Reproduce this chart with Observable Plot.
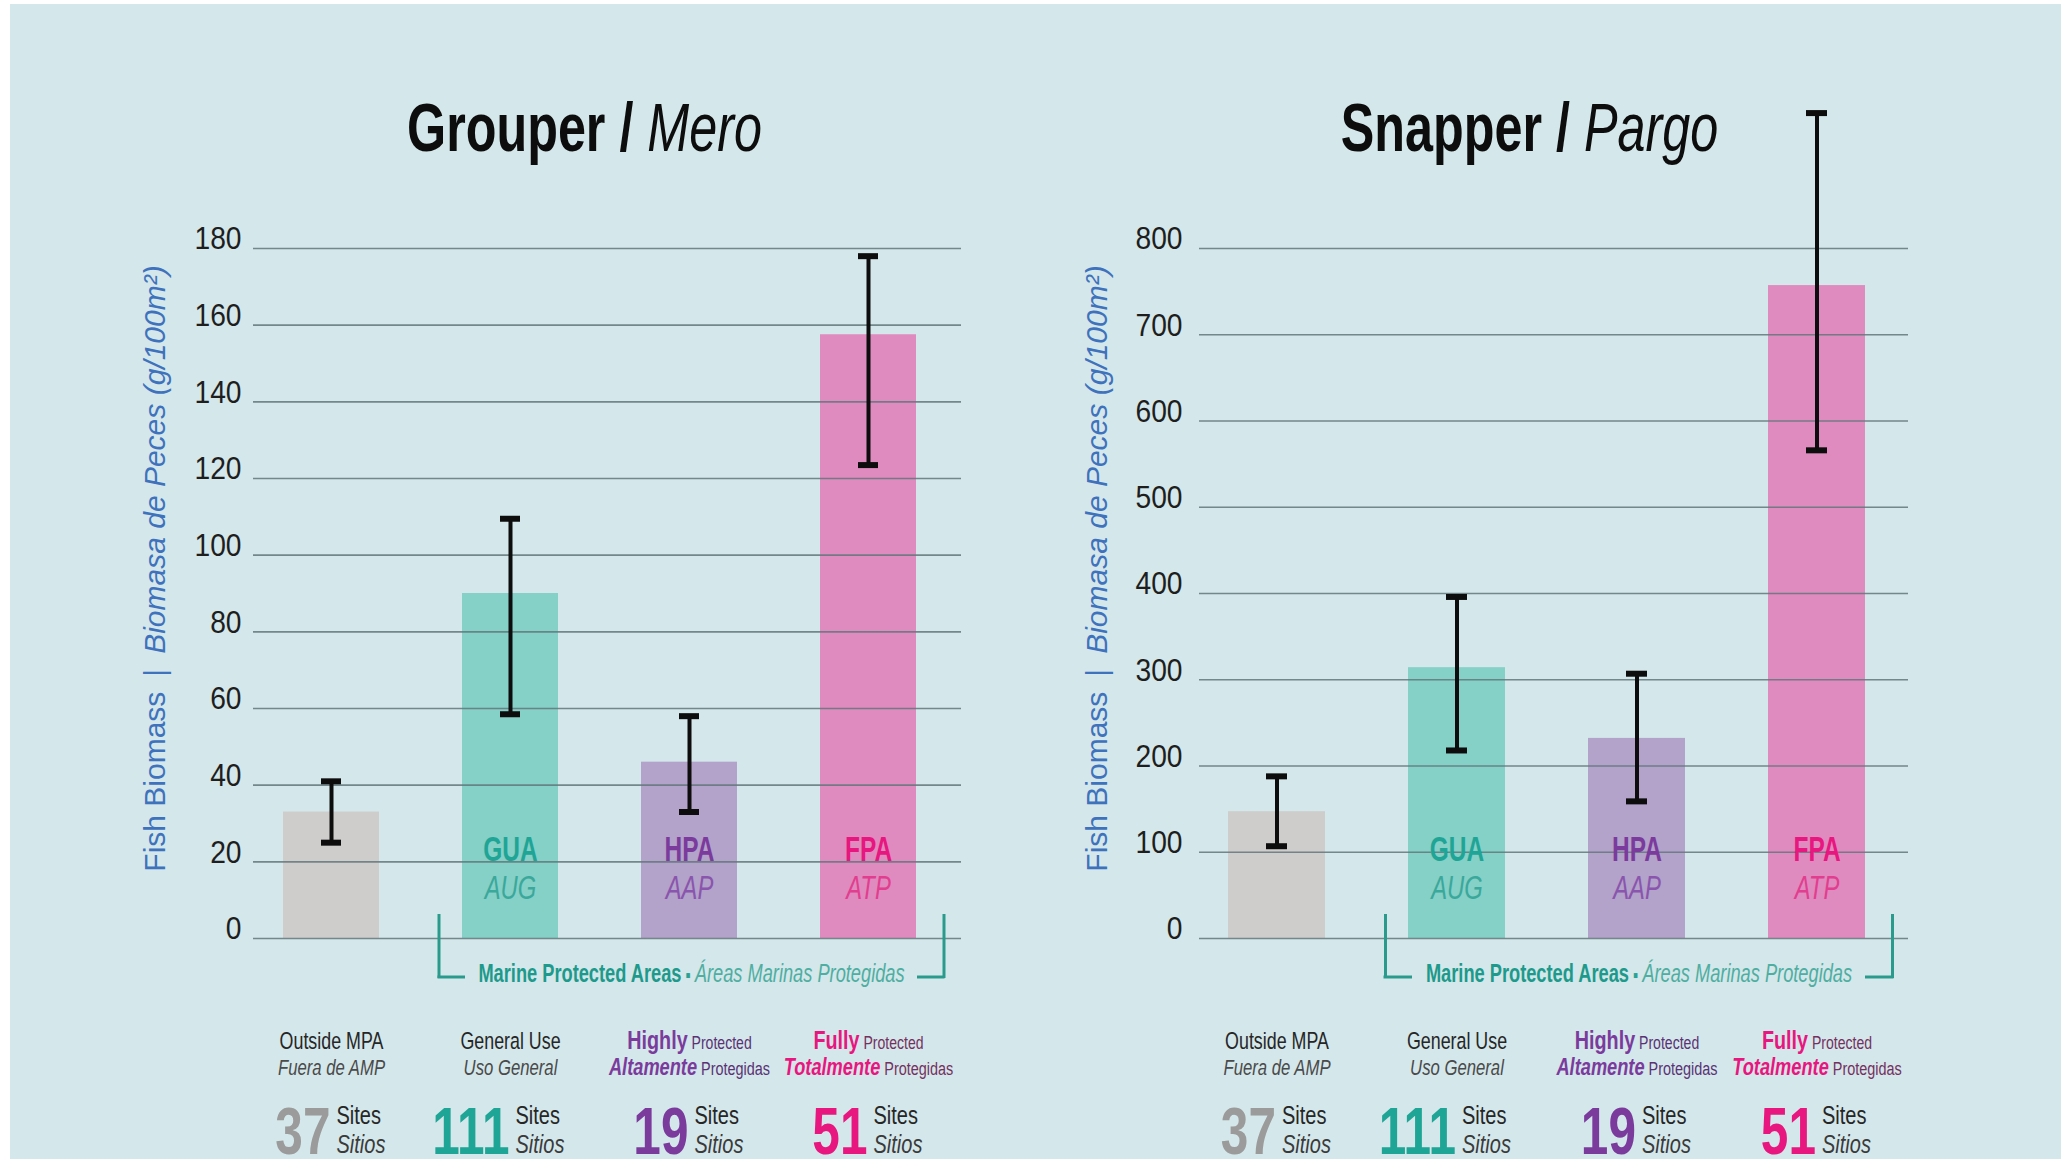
<!DOCTYPE html>
<html>
<head>
<meta charset="utf-8">
<script src="https://cdn.jsdelivr.net/npm/d3@7"></script>
<script src="https://cdn.jsdelivr.net/npm/@observablehq/plot@0.6"></script>
<style>
html, body { margin: 0; padding: 0; background: #ffffff; width: 2061px; height: 1159px; overflow: hidden; }
#wrap { position: absolute; left: 10px; top: 4px; width: 2051px; height: 1155px; background: #d4e7ea; overflow: hidden; }
#wrap svg { position: absolute; top: 0; }
</style>
</head>
<body>
<div id="wrap"></div>
<script>
// ---------------- data ----------------
const categories = ["Outside MPA", "GUA", "HPA", "FPA"];

const grouperMean = [33, 90, 46, 157.5];
const grouperLow  = [25, 58.5, 33, 123.5];
const grouperHigh = [41, 109.5, 58, 178];

const snapperMean = [147, 314, 232, 757];
const snapperLow  = [107, 218, 159, 566];
const snapperHigh = [188, 396, 307, 957];

const grouperTicks = [0, 20, 40, 60, 80, 100, 120, 140, 160, 180];
const snapperTicks = [0, 100, 200, 300, 400, 500, 600, 700, 800];

const grouperTitle = ["Grouper", "Mero"];
const snapperTitle = ["Snapper", "Pargo"];

const yLabelEn = "Fish Biomass";
const yLabelSep = "|";
const yLabelEs = "Biomasa de Peces (g/100m²)";

const insideTop    = ["", "GUA", "HPA", "FPA"];
const insideBottom = ["", "AUG", "AAP", "ATP"];

const labelLine1      = ["Outside MPA", "General Use", "Highly", "Fully"];
const labelLine1Small = ["", "", "Protected", "Protected"];
const labelLine2      = ["Fuera de AMP", "Uso General", "Altamente", "Totalmente"];
const labelLine2Small = ["", "", "Protegidas", "Protegidas"];

const siteCounts = [37, 111, 19, 51];
const sitesEn = "Sites";
const sitesEs = "Sitios";

const bracketEn = "Marine Protected Areas";
const bracketEs = "Áreas Marinas Protegidas";

// ---------------- styles ----------------
const FONT = "'Liberation Sans', Arial, sans-serif";
const barFill     = ["#cfcdcc", "#85d0c7", "#b3a2ca", "#df8bbf"];
const strongColor = ["#9b9b9b", "#1fa596", "#7b3b9d", "#e8167f"];
const softColor   = ["#9b9b9b", "#3aa89b", "#8a55ad", "#e23e8f"];
const darkColor   = ["#333333", "#333333", "#5a3275", "#74305f"];
const SEP = "§";
const H = 1155, MT = 244, MB = 221;
const BW = 97;

// horizontal condensing factor and rich-text styling per text mark
const TEXT_STYLE = {
  title: {scale: 0.74, rich: (i, j) => j === 0 ? {"font-weight": "bold"} : {"font-style": "italic"}},
  ticks: {scale: 0.91},
  ylab:  {scale: 1, rich: (i, j) => j === 2 ? {"font-style": "italic"} : {}},
  inTop: {scale: 0.7},
  inBot: {scale: 0.7},
  mpa:   {scale: 0.73, rich: (i, j) => j === 0 ? {"font-weight": "bold", fill: "#1d9a8b"}
                               : j === 1 ? {fill: "#2aa293", "font-size": 20}
                               : {"font-style": "italic", fill: "#4eaea1"}},
  l1:    {scale: 0.76, rich: (i, j) => i < 2 ? {fill: "#262626"}
                               : j === 0 ? {fill: strongColor[i], "font-weight": "bold", "font-size": 26}
                               : {fill: darkColor[i], "font-size": 18.5}},
  l2:    {scale: 0.76, rich: (i, j) => i < 2 ? {fill: "#4a4a4a", "font-style": "italic"}
                               : j === 0 ? {fill: strongColor[i], "font-weight": "bold", "font-style": "italic", "font-size": 24}
                               : {fill: darkColor[i], "font-size": 19}},
  num:   {scale: 0.74},
  sites: {scale: 0.8}
};

function postText(svg) {
  for (const key in TEXT_STYLE) {
    const {scale, rich} = TEXT_STYLE[key];
    svg.querySelectorAll(`g[aria-description="${key}"] text`).forEach((t, i) => {
      if (rich) {
        const parts = t.textContent.split(SEP);
        while (t.firstChild) t.removeChild(t.firstChild);
        parts.forEach((p, j) => {
          const s = document.createElementNS("http://www.w3.org/2000/svg", "tspan");
          s.textContent = p;
          const st = rich(i, j) || {};
          for (const k in st) s.setAttribute(k, st[k]);
          t.appendChild(s);
        });
      }
      if (scale !== 1) {
        const tr = t.getAttribute("transform") || "";
        t.setAttribute("transform", `${tr} scale(${scale},1)`);
      }
    });
  }
}

function makeChart(cfg) {
  const rows = categories.map((cat, i) => ({cat, i, mean: cfg.mean[i], lo: cfg.lo[i], hi: cfg.hi[i]}));
  const capInset = (BW - 21) / 2;
  const teal = "#2a9a8c";
  const plot = Plot.plot({
    width: cfg.width, height: H,
    marginTop: MT, marginBottom: MB, marginLeft: cfg.marginLeft, marginRight: cfg.marginRight,
    style: {background: "transparent", overflow: "visible", fontFamily: FONT},
    x: {domain: categories, paddingInner: 0.461, paddingOuter: 0.1975, align: 0.408, axis: null},
    y: {domain: cfg.domain, axis: null},
    color: {type: "identity"},
    marks: [
      Plot.barY(rows, {x: "cat", y: "mean", fill: d => barFill[d.i]}),
      Plot.ruleY(cfg.ticks, {stroke: "#62777a", strokeWidth: 1.6, strokeOpacity: 0.85}),
      Plot.text(cfg.ticks, {y: d => d, text: d => String(d), frameAnchor: "left", textAnchor: "end",
        dx: -cfg.tickPad, dy: -9, fontSize: 31, fill: "#1e1e1e", fontFamily: FONT, ariaDescription: "ticks"}),
      // error bars
      Plot.ruleX(rows, {x: "cat", y1: "lo", y2: "hi", stroke: "#0d0d0d", strokeWidth: 4}),
      Plot.tickY(rows, {x: "cat", y: "hi", insetLeft: capInset, insetRight: capInset, stroke: "#0d0d0d", strokeWidth: 6}),
      Plot.tickY(rows, {x: "cat", y: "lo", insetLeft: capInset, insetRight: capInset, stroke: "#0d0d0d", strokeWidth: 6}),
      // inside-bar labels
      Plot.text(rows, {x: "cat", text: d => insideTop[d.i], frameAnchor: "bottom", lineAnchor: "bottom", dy: -78,
        fontSize: 35, fontWeight: "bold", fill: d => strongColor[d.i], fontFamily: FONT, ariaDescription: "inTop"}),
      Plot.text(rows, {x: "cat", text: d => insideBottom[d.i], frameAnchor: "bottom", lineAnchor: "bottom", dy: -40,
        fontSize: 34, fontStyle: "italic", fill: d => softColor[d.i], fontFamily: FONT, ariaDescription: "inBot"}),
      // title
      Plot.text([0], {frameAnchor: "top", lineAnchor: "bottom", textAnchor: "middle", dx: cfg.titleDx, dy: -98,
        text: () => `${cfg.title[0]} /${SEP} ${cfg.title[1]}`, fontSize: 68, fontFamily: FONT,
        fill: "#0d0d0d", ariaDescription: "title"}),
      // y label
      Plot.text([0], {frameAnchor: "left", rotate: -90, textAnchor: "middle", dx: cfg.ylabDx, dy: -25,
        text: () => `${yLabelEn}${SEP}\u2002${yLabelSep}\u2002${SEP}${yLabelEs}`,
        fontSize: 30, fontFamily: FONT, fill: "#3f72bd", ariaDescription: "ylab"}),
      // MPA bracket
      Plot.ruleX(["GUA"], {x: d => d, dx: -(BW / 2 + 23), insetTop: 666, insetBottom: -40, stroke: teal, strokeWidth: 3}),
      Plot.ruleX(["FPA"], {x: d => d, dx: BW / 2 + 27, insetTop: 666, insetBottom: -40, stroke: teal, strokeWidth: 3}),
      Plot.tickY(["GUA"], {x: d => d, y: () => 0, dy: 38.5, insetLeft: -24.5, insetRight: 93, stroke: teal, strokeWidth: 3}),
      Plot.tickY(["FPA"], {x: d => d, y: () => 0, dy: 38.5, insetLeft: BW, insetRight: -28.5, stroke: teal, strokeWidth: 3}),
      Plot.text([0], {x: () => "HPA", frameAnchor: "bottom", lineAnchor: "bottom", textAnchor: "middle", dx: 2, dy: 43,
        text: () => `${bracketEn}${SEP} \u25AA ${SEP}${bracketEs}`, fontSize: 25, fontFamily: FONT,
        ariaDescription: "mpa"}),
      // category labels
      Plot.text(rows, {x: "cat", frameAnchor: "bottom", lineAnchor: "bottom", dy: 110,
        text: d => labelLine1[d.i] + (labelLine1Small[d.i] ? SEP + " " + labelLine1Small[d.i] : ""),
        fontSize: 23.5, fontFamily: FONT, ariaDescription: "l1"}),
      Plot.text(rows, {x: "cat", frameAnchor: "bottom", lineAnchor: "bottom", dy: 136,
        text: d => labelLine2[d.i] + (labelLine2Small[d.i] ? SEP + " " + labelLine2Small[d.i] : ""),
        fontSize: 22, fontFamily: FONT, ariaDescription: "l2"}),
      // site counts
      Plot.text(rows, {x: "cat", frameAnchor: "bottom", lineAnchor: "bottom", dy: 215, dx: -1, textAnchor: "end",
        text: d => String(siteCounts[d.i]), fontSize: 67, fontWeight: "bold", fill: d => strongColor[d.i],
        fontFamily: FONT, ariaDescription: "num"}),
      Plot.text(rows, {x: "cat", frameAnchor: "bottom", lineAnchor: "bottom", dy: 185, dx: 5, textAnchor: "start",
        text: () => sitesEn, fontSize: 25, fill: "#262626", fontFamily: FONT, ariaDescription: "sites"}),
      Plot.text(rows, {x: "cat", frameAnchor: "bottom", lineAnchor: "bottom", dy: 214, dx: 5, textAnchor: "start",
        text: () => sitesEs, fontSize: 25, fontStyle: "italic", fill: "#3a3a3a", fontFamily: FONT, ariaDescription: "sites"})
    ]
  });
  postText(plot);
  return plot;
}

const wrap = document.getElementById("wrap");
const left = makeChart({
  title: grouperTitle, mean: grouperMean, lo: grouperLow, hi: grouperHigh,
  domain: [0, 180], ticks: grouperTicks, tickPad: 12,
  width: 1020, marginLeft: 243, marginRight: 69, ylabDx: -98, titleDx: -23
});
left.style.left = "0px";
wrap.appendChild(left);

const right = makeChart({
  title: snapperTitle, mean: snapperMean, lo: snapperLow, hi: snapperHigh,
  domain: [0, 800], ticks: snapperTicks, tickPad: 17,
  width: 1031, marginLeft: 169, marginRight: 153, ylabDx: -102, titleDx: -24.5
});
right.style.left = "1020px";
wrap.appendChild(right);
</script>
</body>
</html>
